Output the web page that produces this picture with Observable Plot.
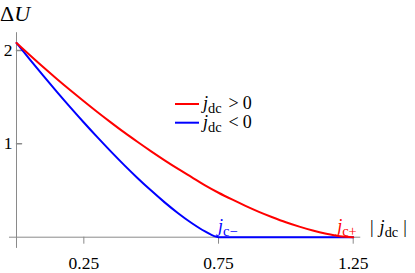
<!DOCTYPE html>
<html><head><meta charset="utf-8">
<script src="https://cdn.jsdelivr.net/npm/d3@7"></script>
<script src="https://cdn.jsdelivr.net/npm/@observablehq/plot@0.6"></script>
<style>
body{margin:0;background:#fff}
</style>
</head><body><div id="chart"></div>
<script>
// |j_dc| sample points
const jValues = [0,0.05,0.1,0.15,0.2,0.25,0.3,0.35,0.4,0.45,0.5,0.55,0.6,0.65,0.7,0.75,0.8,0.85,0.9,0.95,1.0,1.05,1.1,1.15,1.2,1.25];
// ΔU for j_dc > 0 (red)
const dUPositive = [2.08,1.949,1.82,1.695,1.574,1.456,1.341,1.23,1.122,1.019,0.919,0.823,0.731,0.643,0.555,0.476,0.404,0.336,0.272,0.214,0.16,0.113,0.071,0.037,0.011,0];
// ΔU for j_dc < 0 (blue)
const dUNegative = [2.08,1.902,1.727,1.556,1.39,1.228,1.071,0.919,0.772,0.632,0.499,0.373,0.257,0.152,0.062,0,0,0,0,0,0,0,0,0,0,0];
const xTicks = [0.25,0.75,1.25];
const yTicks = [1,2];
const xAxisSpan = [-0.026,1.278];
const yAxisSpan = [-0.12,2.19];

const rows = [];
jValues.forEach((j,i)=>{
  rows.push({j, dU: dUPositive[i], s: "pos"});
  rows.push({j, dU: dUNegative[i], s: "neg"});
});
const FONT = '"Liberation Serif", "Times New Roman", Times, "DejaVu Serif", serif';
const red = "#ff0000", blue = "#0000ff", axisGray = "#8a8a8a";
const tickShape = {draw(ctx, l){ ctx.moveTo(0,0); ctx.lineTo(0,-l); }};

const plot = Plot.plot({
  width: 415, height: 273,
  marginLeft: 16, marginRight: 62.3, marginTop: 32.2, marginBottom: 36.3,
  x: {domain: [0,1.25]},
  y: {domain: [0,2.19]},
  style: {fontFamily: FONT, fontSize: "17.5px", background: "white", overflow: "visible"},
  marks: [
    Plot.ruleY([0], {x1: xAxisSpan[0], x2: xAxisSpan[1], stroke: axisGray, strokeWidth: 1}),
    Plot.ruleX([0], {y1: yAxisSpan[0], y2: yAxisSpan[1], stroke: axisGray, strokeWidth: 1}),
    Plot.axisX({ticks: xTicks, tickSize: 7, tickPadding: 12, stroke: axisGray, fill: "black", label: null, tickFormat: d => d.toFixed(2)}),
    Plot.axisY({ticks: yTicks, tickSize: 0, tickPadding: 4, fill: "black", label: null, tickFormat: d => String(d)}),
    Plot.vector(yTicks, {x: 0, y: d => d, length: 5, rotate: 90, anchor: "start", shape: tickShape, stroke: axisGray}),
    Plot.line(rows.filter(d=>d.s==="neg"), {x: "j", y: "dU", stroke: blue, strokeWidth: 2, curve: "monotone-x"}),
    Plot.line(rows.filter(d=>d.s==="pos"), {x: "j", y: "dU", stroke: red, strokeWidth: 2, curve: "monotone-x"})
  ]
});
document.getElementById("chart").appendChild(plot);

const svg = d3.select(plot);
const xs = plot.scale("x"), ys = plot.scale("y");

function richText(x, y, parts, {fill="black", size=15, anchor="start"} = {}) {
  const t = svg.append("text").attr("x", x).attr("y", y).attr("fill", fill)
    .attr("text-anchor", anchor)
    .style("font-family", FONT).style("font-size", size + "px");
  let shift = 0;
  for (const p of parts) {
    const target = p.sub ? size*0.22 : 0;
    const s = t.append("tspan").text(p.t).attr("dy", target - shift);
    if (p.dx) s.attr("dx", p.dx);
    shift = target;
    if (p.i) s.style("font-style", "italic");
    if (p.sub) s.style("font-size", (size*0.8) + "px");
  }
  return t;
}

// y label
richText(0, 21, [{t:"Δ"},{t:"U", i:true}], {size: 22});
// x label
richText(370, 233, [{t:"|"},{t:"j", i:true, dx: 6},{t:"dc", sub:true},{t:"|", dx: 5}], {size: 18});
// critical current labels
richText(xs.apply(0.75), ys.apply(0) - 5, [{t:"j", i:true},{t:"c−", sub:true}], {size: 18, fill: blue});
richText(xs.apply(1.25) + 4, ys.apply(0) - 5, [{t:"j", i:true},{t:"c+", sub:true}], {size: 18, fill: red, anchor: "end"});

// legend
const legend = [{name: ">", color: red, y: 104}, {name: "<", color: blue, y: 122.7}];
for (const L of legend) {
  svg.append("line").attr("x1", 175).attr("x2", 199).attr("y1", L.y).attr("y2", L.y)
    .attr("stroke", L.color).attr("stroke-width", 2);
  richText(203, L.y + 5, [{t:"j", i:true},{t:"dc", sub:true},{t:L.name, dx: 7},{t:"0", dx: 4}], {size: 18});
}
</script>
</body></html>
